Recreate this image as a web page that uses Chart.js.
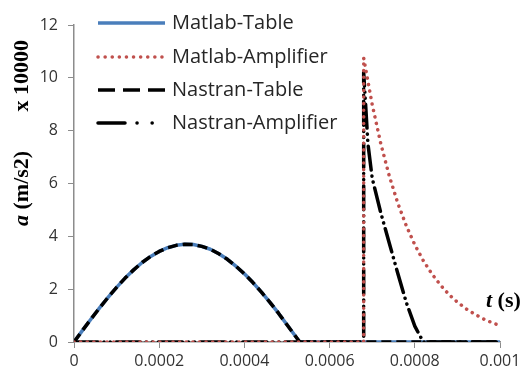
<!DOCTYPE html>
<html>
<head>
<meta charset="utf-8">
<script src="https://cdn.jsdelivr.net/npm/chart.js@4.4.1/dist/chart.umd.min.js"></script>
<style>
  html, body { margin: 0; padding: 0; background: #ffffff; }
  #wrap { width: 526px; height: 373px; }
</style>
</head>
<body>
<div id="wrap"><canvas id="c" width="526" height="373"></canvas></div>
<script>
// ---- data (a in units of 10000 m/s2, t in s) ----
const seriesNames = ['Matlab-Table', 'Matlab-Amplifier', 'Nastran-Table', 'Nastran-Amplifier'];

const matlabTableTime  = [0, 0.00002, 0.00004, 0.00006, 0.00008, 0.0001, 0.00012, 0.00014, 0.00016, 0.00018, 0.0002, 0.00022, 0.00024, 0.00026, 0.00028, 0.0003, 0.00032, 0.00034, 0.00036, 0.00038, 0.0004, 0.00042, 0.00044, 0.00046, 0.00048, 0.0005, 0.00052, 0.00053, 0.001];
const matlabTableAccel = [0, 0.44, 0.87, 1.29, 1.69, 2.07, 2.42, 2.73, 3.01, 3.24, 3.43, 3.57, 3.66, 3.70, 3.69, 3.62, 3.51, 3.34, 3.13, 2.87, 2.58, 2.25, 1.89, 1.50, 1.09, 0.65, 0.22, 0, 0];

const nastranTableTime  = [0, 0.00002, 0.00004, 0.00006, 0.00008, 0.0001, 0.00012, 0.00014, 0.00016, 0.00018, 0.0002, 0.00022, 0.00024, 0.00026, 0.00028, 0.0003, 0.00032, 0.00034, 0.00036, 0.00038, 0.0004, 0.00042, 0.00044, 0.00046, 0.00048, 0.0005, 0.00052, 0.00053, 0.001];
const nastranTableAccel = [0, 0.44, 0.87, 1.29, 1.69, 2.07, 2.42, 2.73, 3.01, 3.24, 3.43, 3.57, 3.66, 3.70, 3.69, 3.62, 3.51, 3.34, 3.13, 2.87, 2.58, 2.25, 1.89, 1.50, 1.09, 0.65, 0.22, 0, 0];

const matlabAmpTime  = [0, 0.00068, 0.00068, 0.0007, 0.00072, 0.00074, 0.00076, 0.00078, 0.0008, 0.00082, 0.00084, 0.00086, 0.00088, 0.0009, 0.00092, 0.00094, 0.00096, 0.00098, 0.001];
const matlabAmpAccel = [0, 0, 10.75, 8.99, 7.52, 6.29, 5.26, 4.40, 3.68, 3.08, 2.58, 2.16, 1.80, 1.51, 1.26, 1.06, 0.88, 0.74, 0.62];

const nastranAmpTime  = [0, 0.00068, 0.00068, 0.00069, 0.0007, 0.00072, 0.00074, 0.00076, 0.00078, 0.0008, 0.00082, 0.001];
const nastranAmpAccel = [0, 0, 10.2, 7.5, 6.2, 4.9, 3.75, 2.6, 1.5, 0.6, 0, 0];

const xTickValues = [0, 0.0002, 0.0004, 0.0006, 0.0008, 0.001];
const xTickLabels = ['0', '0.0002', '0.0004', '0.0006', '0.0008', '0.001'];
const yTickValues = [0, 2, 4, 6, 8, 10, 12];
const yTickLabels = ['0', '2', '4', '6', '8', '10', '12'];

const yTitleVar = 'a';
const yTitleUnit = ' (m/s2)';
const yTitleScale = 'x 10000';
const xTitleVar = 't';
const xTitleUnit = ' (s)';

// ---- build chart ----
function pts(ts, vs) { return ts.map((t, i) => ({ x: t, y: vs[i] })); }

const legendStyles = [
  { color: '#4A7EBB', dash: [], width: 3.5, cap: 'butt' },
  { color: '#C0504D', dash: [0.1, 7], width: 3.5, cap: 'round' },
  { color: '#000000', dash: [17, 8], width: 3.5, cap: 'butt' },
  { color: '#000000', dash: [27, 12, 0.1, 15, 0.1, 30], width: 3.5, cap: 'round' }
];

const legendPlugin = {
  id: 'lineLegend',
  afterDraw(chart) {
    const ctx = chart.ctx;
    const rows = [23, 57, 90, 123];
    ctx.save();
    seriesNames.forEach((name, i) => {
      const s = legendStyles[i];
      ctx.beginPath();
      ctx.strokeStyle = s.color;
      ctx.lineWidth = s.width;
      ctx.lineCap = s.cap;
      ctx.setLineDash(s.dash);
      ctx.moveTo(98, rows[i]);
      ctx.lineTo(165, rows[i]);
      ctx.stroke();
      ctx.setLineDash([]);
      ctx.fillStyle = '#262626';
      ctx.font = '20px "Open Sans"';
      ctx.textBaseline = 'middle';
      ctx.textAlign = 'left';
      ctx.fillText(name, 172, rows[i]);
    });
    ctx.restore();
  }
};

const titlePlugin = {
  id: 'axisTitles',
  afterDraw(chart) {
    const ctx = chart.ctx;
    ctx.save();
    ctx.fillStyle = '#000000';
    ctx.textBaseline = 'middle';
    ctx.textAlign = 'left';
    // y title, rotated
    ctx.translate(22, 226);
    ctx.rotate(-Math.PI / 2);
    ctx.font = 'italic bold 22px "Liberation Serif"';
    ctx.fillText(yTitleVar, 0, 0);
    let w = ctx.measureText(yTitleVar).width;
    ctx.font = 'bold 22px "Liberation Serif"';
    ctx.fillText(yTitleUnit, w, 0);
    ctx.textAlign = 'right';
    ctx.fillText(yTitleScale, 186, 0);
    ctx.restore();

    ctx.save();
    ctx.fillStyle = '#000000';
    ctx.textBaseline = 'middle';
    ctx.textAlign = 'left';
    ctx.font = 'italic bold 22px "Liberation Serif"';
    ctx.fillText(xTitleVar, 486, 301);
    w = ctx.measureText(xTitleVar).width;
    ctx.font = 'bold 22px "Liberation Serif"';
    ctx.fillText(xTitleUnit, 486 + w, 301);
    ctx.restore();
  }
};

const common = { pointRadius: 0, pointHoverRadius: 0, tension: 0, fill: false, borderJoinStyle: 'round' };

new Chart(document.getElementById('c'), {
  type: 'line',
  data: {
    datasets: [
      Object.assign({ label: seriesNames[0], data: pts(matlabTableTime, matlabTableAccel), borderColor: '#4A7EBB', borderWidth: 3.5, order: 4 }, common),
      Object.assign({ label: seriesNames[2], data: pts(nastranTableTime, nastranTableAccel), borderColor: '#000000', borderWidth: 3.5, borderDash: [10, 5], order: 3 }, common),
      Object.assign({ label: seriesNames[3], data: pts(nastranAmpTime, nastranAmpAccel), borderColor: '#000000', borderWidth: 3.5, borderDash: [24, 6, 0.1, 6, 0.1, 6], borderCapStyle: 'round', order: 2 }, common),
      Object.assign({ label: seriesNames[1], data: pts(matlabAmpTime, matlabAmpAccel), borderColor: '#C0504D', borderWidth: 3.5, borderDash: [0.1, 6.5], borderCapStyle: 'round', order: 1 }, common)
    ]
  },
  options: {
    responsive: false,
    animation: false,
    events: [],
    layout: { padding: { top: 25, right: 26, left: 0, bottom: 0 } },
    plugins: { legend: { display: false }, tooltip: { enabled: false } },
    scales: {
      x: {
        type: 'linear', min: 0, max: 0.001,
        afterBuildTicks(scale) { scale.ticks = xTickValues.map(v => ({ value: v })); },
        afterFit(scale) { scale.height = 31; },
        ticks: {
          autoSkip: false, maxRotation: 0, padding: 4,
          color: '#333333', font: { family: '"Open Sans"', size: 16 },
          callback: (v) => { const i = xTickValues.findIndex(t => Math.abs(t - v) < 1e-9); return i >= 0 ? xTickLabels[i] : ''; }
        },
        grid: { drawOnChartArea: false, drawTicks: true, tickLength: 6, color: '#8C8C8C', lineWidth: 1 },
        border: { color: '#8C8C8C', width: 1.5 }
      },
      y: {
        type: 'linear', min: 0, max: 12,
        afterBuildTicks(scale) { scale.ticks = yTickValues.map(v => ({ value: v })); },
        afterFit(scale) { scale.width = 74; },
        ticks: {
          padding: 10,
          color: '#333333', font: { family: '"Open Sans"', size: 16 },
          callback: (v) => { const i = yTickValues.indexOf(v); return i >= 0 ? yTickLabels[i] : ''; }
        },
        grid: { drawOnChartArea: false, drawTicks: true, tickLength: 6, color: '#8C8C8C', lineWidth: 1 },
        border: { color: '#8C8C8C', width: 1.5 }
      }
    }
  },
  plugins: [legendPlugin, titlePlugin]
});
</script>
</body>
</html>
